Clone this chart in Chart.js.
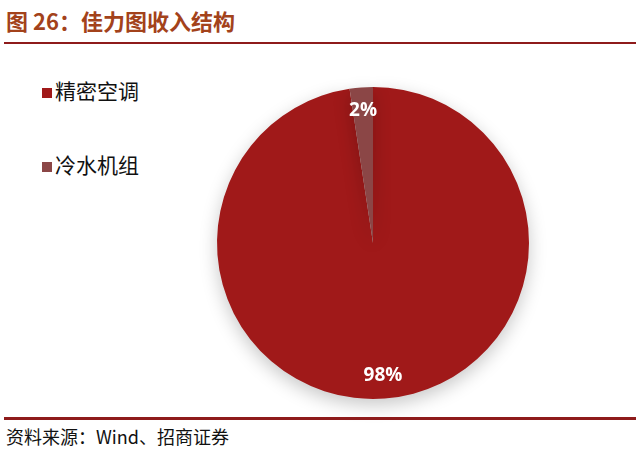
<!DOCTYPE html>
<html>
<head>
<meta charset="utf-8">
<script src="https://cdn.jsdelivr.net/npm/chart.js@4"></script>
<style>
  html, body { margin: 0; padding: 0; background: #fff; }
  body { width: 640px; height: 454px; position: relative; overflow: hidden;
         font-family: "Noto Sans CJK SC", "Liberation Sans", sans-serif; }
  .title { position: absolute; left: 6px; top: 4px; font-size: 22px; font-weight: bold;
           color: #a3421b; }
  .line-top { position: absolute; left: 4px; right: 4px; top: 42px; height: 2px; background: #8e1b1b; }
  .line-bot { position: absolute; left: 4px; right: 4px; top: 417px; height: 3px; background: #8e1b1b; }
  .source { position: absolute; left: 6px; top: 423px; font-size: 18px; color: #111; }
  .legend { position: absolute; left: 42px; top: 76px; }
  .legend div { height: 74px; font-size: 21px; color: #111; line-height: 28px; }
  .legend span { display: inline-block; width: 10px; height: 10px; margin-right: 3px; vertical-align: 1px; }
  .chart-box { position: absolute; left: 193px; top: 63px; width: 360px; height: 360px; }
</style>
</head>
<body>
<div class="title">图 26：佳力图收入结构</div>
<div class="line-top"></div>
<div class="legend" id="legend"></div>
<div class="chart-box"><canvas id="pie"></canvas></div>
<div class="line-bot"></div>
<div class="source">资料来源：Wind、招商证券</div>
<script>
const categories = ['精密空调', '冷水机组'];
const shares = [97.6, 2.4];
const colors = ['#a01919', '#8b4646'];

// legend
const legend = document.getElementById('legend');
categories.forEach((name, i) => {
  const row = document.createElement('div');
  row.innerHTML = '<span style="background:' + colors[i] + '"></span>' + name;
  legend.appendChild(row);
});

// white percentage labels along each slice's mid angle
const pieLabels = {
  id: 'pieLabels',
  afterDatasetsDraw(chart) {
    const c = chart.ctx;
    const meta = chart.getDatasetMeta(0);
    c.save();
    c.fillStyle = '#fff';
    c.font = 'bold 19px "Open Sans", "Liberation Sans", sans-serif';
    c.textAlign = 'center';
    c.textBaseline = 'middle';
    meta.data.forEach((arc, i) => {
      const mid = (arc.startAngle + arc.endAngle) / 2;
      const r = arc.outerRadius * 0.85;
      c.fillText(Math.round(shares[i]) + '%', arc.x + Math.cos(mid) * r, arc.y + Math.sin(mid) * r);
    });
    c.restore();
  }
};

const shadow = {
  id: 'shadow',
  beforeDatasetsDraw(chart) {
    const c = chart.ctx;
    c.save();
    c.shadowColor = 'rgba(0,0,0,0.22)';
    c.shadowBlur = 18;
    c.shadowOffsetY = 6;
  },
  afterDatasetsDraw(chart) {
    chart.ctx.restore();
  }
};

new Chart(document.getElementById('pie'), {
  type: 'pie',
  data: {
    labels: categories,
    datasets: [{
      data: shares,
      backgroundColor: colors,
      borderWidth: 0
    }]
  },
  options: {
    responsive: true,
    maintainAspectRatio: false,
    animation: false,
    layout: { padding: 24 },
    plugins: {
      legend: { display: false },
      tooltip: { enabled: false }
    }
  },
  plugins: [shadow, pieLabels]
});
</script>
</body>
</html>
